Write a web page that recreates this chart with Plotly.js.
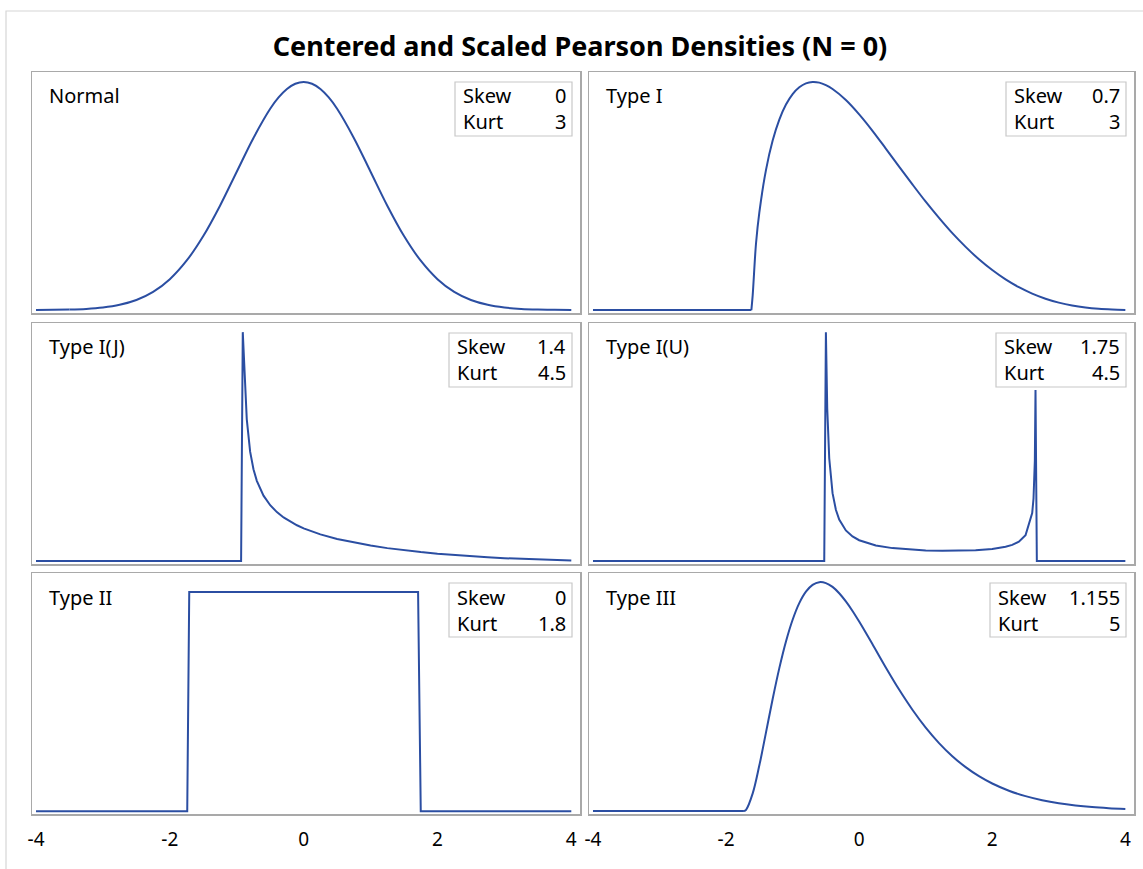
<!DOCTYPE html>
<html>
<head>
<meta charset="utf-8">
<script src="https://cdn.plot.ly/plotly-3.0.1.min.js"></script>
<style>
  html, body { margin: 0; padding: 0; background: #fff; }
  #chart { width: 1143px; height: 869px; }
</style>
</head>
<body>
<div id="chart"></div>
<script>
// Panel names and moment statistics
const panelNames = ["Normal", "Type I", "Type I(J)", "Type I(U)", "Type II", "Type III"];
const skewText = ["0", "0.7", "1.4", "1.75", "0", "1.155"];
const kurtText = ["3", "3", "4.5", "4.5", "1.8", "5"];
const xTickVals = [-4, -2, 0, 2, 4];
const xTickText = ["-4", "-2", "0", "2", "4"];

// Normal
const normX = [-4, -3.75, -3.5, -3.25, -3, -2.75, -2.5, -2.25, -2, -1.75, -1.5, -1.25, -1, -0.75, -0.5, -0.375, -0.25, -0.125, 0,
               0.125, 0.25, 0.375, 0.5, 0.75, 1, 1.25, 1.5, 1.75, 2, 2.25, 2.5, 2.75, 3, 3.25, 3.5, 3.75, 4];
const normY = [0.0001, 0.0004, 0.0009, 0.0020, 0.0044, 0.0091, 0.0175, 0.0317, 0.0540, 0.0863, 0.1295, 0.1826, 0.2420, 0.3011, 0.3521, 0.3719, 0.3867, 0.3958, 0.3989,
               0.3958, 0.3867, 0.3719, 0.3521, 0.3011, 0.2420, 0.1826, 0.1295, 0.0863, 0.0540, 0.0317, 0.0175, 0.0091, 0.0044, 0.0020, 0.0009, 0.0004, 0.0001];

// Type I
const t1X = [-4, -1.62, -1.6, -1.55, -1.5, -1.4, -1.3, -1.2, -1.1, -1.0, -0.9, -0.8, -0.7, -0.6, -0.5, -0.4, -0.2, 0,
             0.2, 0.4, 0.6, 0.8, 1.0, 1.2, 1.4, 1.6, 1.8, 2.0, 2.2, 2.4, 2.6, 2.8, 3.0, 3.2, 3.4, 3.6, 3.8, 4.0];
const t1Y = [0, 0, 0.0267, 0.1195, 0.1746, 0.2507, 0.3031, 0.3407, 0.3676, 0.3864, 0.3986, 0.4056, 0.4079, 0.4068, 0.4023, 0.3954, 0.3758, 0.3501,
             0.3207, 0.2889, 0.2566, 0.2248, 0.1938, 0.1648, 0.1375, 0.1130, 0.0908, 0.0715, 0.0548, 0.0408, 0.0294, 0.0203, 0.0133, 0.0081, 0.0045, 0.0022, 0.0009, 0.0002];

// Type I(J)
const tjX = [-4, -0.935, -0.91, -0.88, -0.85, -0.8, -0.75, -0.7, -0.6, -0.5, -0.4, -0.3, -0.2, -0.1, 0,
             0.25, 0.5, 0.75, 1.0, 1.25, 1.5, 1.75, 2.0, 2.25, 2.5, 2.75, 3.0, 3.25, 3.5, 3.75, 4.0];
const tjY = [0, 0, 2.10, 1.70, 1.30, 1.003, 0.842, 0.736, 0.600, 0.512, 0.449, 0.400, 0.361, 0.328, 0.300,
             0.2445, 0.2025, 0.169, 0.1415, 0.1184, 0.0988, 0.0820, 0.0673, 0.0546, 0.0436, 0.0340, 0.0258, 0.0188, 0.01285, 0.0080, 0.0043];

// Type I(U)
const tuX = [-4, -0.525, -0.5, -0.49, -0.48, -0.45, -0.42, -0.4, -0.35, -0.3, -0.2, -0.1, 0, 0.25, 0.5, 0.75, 1.0, 1.25, 1.5, 1.75,
             2.0, 2.2, 2.3, 2.4, 2.5, 2.6, 2.62, 2.64, 2.65, 2.67, 4];
const tuY = [0, 0, 1.245, 0.993, 0.829, 0.559, 0.426, 0.369, 0.279, 0.226, 0.1665, 0.1337, 0.1131, 0.0844, 0.0702, 0.0621, 0.0577, 0.0558, 0.0560, 0.0589,
             0.0659, 0.0776, 0.0880, 0.1054, 0.1403, 0.2604, 0.340, 0.547, 0.93, 0, 0];

// Type II
const t2X = [-4, -1.74, -1.71, 1.71, 1.75, 4];
const t2Y = [0, 0, 0.2887, 0.2887, 0, 0];

// Type III
const t3X = [-4, -1.732, -1.7, -1.6, -1.5, -1.4, -1.3, -1.2, -1.1, -1.0, -0.9, -0.8, -0.7, -0.6, -0.5, -0.4, -0.3, -0.2, -0.1, 0,
             0.2, 0.4, 0.6, 0.8, 1.0, 1.2, 1.4, 1.6, 1.8, 2.0, 2.25, 2.5, 2.75, 3.0, 3.25, 3.5, 3.75, 4.0];
const t3Y = [0, 0, 0.0025, 0.0361, 0.0936, 0.1612, 0.2295, 0.2927, 0.3473, 0.3918, 0.4258, 0.4492, 0.4632, 0.4688, 0.4669, 0.4591, 0.4461, 0.4293, 0.4098, 0.3880,
             0.3416, 0.2941, 0.2488, 0.2075, 0.1709, 0.1392, 0.1123, 0.0899, 0.0714, 0.0564, 0.0416, 0.0305, 0.0222, 0.0160, 0.0115, 0.0082, 0.0059, 0.0042];

const seriesX = [normX, t1X, tjX, tuX, t2X, t3X];
const seriesY = [normY, t1Y, tjY, tuY, t2Y, t3Y];

// ---- styling ----
const W = 1143, H = 869;
const FONT = "Noto Sans, Open Sans, sans-serif";
const LINE_COLOR = "#2b4ea2";
const FRAME_COLOR = "#a9a9a9";
const colPx = [[32, 580], [589, 1134]];
const rowPx = [[72, 313], [323, 564], [573, 814]];
const smooth = [true, true, false, false, false, true];
const topPad = [0.044, 0.044, 0.04, 0.04, 0.087, 0.04];
const boxW = [117, 120, 123, 130, 123, 136];
const X_RANGE = [-4.06, 4.13];
const TXT = 20;

const traces = [];
const layout = {
  width: W, height: H,
  margin: {l: 0, r: 0, t: 0, b: 0},
  paper_bgcolor: "#fff", plot_bgcolor: "#fff",
  showlegend: false,
  font: {family: FONT, size: TXT, color: "#000"},
  title: {
    text: "Centered and Scaled Pearson Densities (N = 0)",
    font: {family: FONT, size: 27, color: "#000", weight: "bold"},
    x: 580 / W, xref: "paper", xanchor: "center",
    y: 1 - 47 / H, yref: "paper", yanchor: "middle"
  },
  annotations: [],
  shapes: [
    {type: "rect", xref: "paper", yref: "paper",
     x0: 6 / W, x1: 1.01, y0: -0.02, y1: 1 - 11 / H,
     line: {color: "#d6d6d6", width: 1.2}, fillcolor: "rgba(0,0,0,0)", layer: "below"}
  ]
};

for (let i = 0; i < 6; i++) {
  const col = i % 2, row = Math.floor(i / 2);
  const xa = "x" + (i + 1), ya = "y" + (i + 1);
  const xKey = "xaxis" + (i === 0 ? "" : i + 1), yKey = "yaxis" + (i === 0 ? "" : i + 1);
  const xs = seriesX[i], ys = seriesY[i];
  const yMax = Math.max(...ys);
  const bottom = row === 2;

  if (smooth[i]) {
    // flat zero stretch drawn straight, the density itself as a smooth curve
    let k = ys.findIndex(v => v > 0.001);
    k = Math.max(1, k - 1);
    if (ys[0] > 0.001) k = 0;
    if (k > 0) {
      traces.push({x: xs.slice(0, k + 1), y: ys.slice(0, k + 1), type: "scatter", mode: "lines",
        xaxis: xa, yaxis: ya, line: {color: LINE_COLOR, width: 2}, hoverinfo: "skip"});
    }
    traces.push({x: xs.slice(k), y: ys.slice(k), type: "scatter", mode: "lines",
      xaxis: xa, yaxis: ya, line: {color: LINE_COLOR, width: 2, shape: "spline", smoothing: 1}, hoverinfo: "skip"});
  } else {
    traces.push({x: xs, y: ys, type: "scatter", mode: "lines",
      xaxis: xa, yaxis: ya, line: {color: LINE_COLOR, width: 2}, hoverinfo: "skip"});
  }

  layout[xKey] = {
    domain: [colPx[col][0] / W, colPx[col][1] / W],
    range: X_RANGE, anchor: ya,
    showline: true, mirror: true, linecolor: FRAME_COLOR, linewidth: 1.5,
    showgrid: false, zeroline: false,
    tickvals: xTickVals, ticktext: xTickText, showticklabels: bottom,
    ticks: bottom ? "outside" : "", ticklen: 8, tickcolor: "rgba(0,0,0,0)",
    tickfont: {family: FONT, size: 19, color: "#000"}
  };
  layout[yKey] = {
    domain: [1 - rowPx[row][1] / H, 1 - rowPx[row][0] / H],
    range: [-0.013 * yMax, yMax * (1 + topPad[i])], anchor: xa,
    showline: true, mirror: true, linecolor: FRAME_COLOR, linewidth: 1.5,
    showgrid: false, zeroline: false, showticklabels: false, ticks: ""
  };

  const xd = xa + " domain", yd = ya + " domain";
  // panel name
  layout.annotations.push({
    xref: xd, yref: yd, x: 0, y: 1, xanchor: "left", yanchor: "middle",
    xshift: 15, yshift: -24, showarrow: false, text: panelNames[i],
    font: {family: FONT, size: TXT, color: "#000"}
  });
  // statistics inset box
  layout.shapes.push({
    type: "rect", xref: xd, yref: yd,
    xsizemode: "pixel", ysizemode: "pixel", xanchor: 1, yanchor: 1,
    x0: -8 - boxW[i], x1: -8, y0: -10, y1: -64,
    line: {color: "#c8c8c8", width: 1.2}, fillcolor: "#fff"
  });
  const rows = [["Skew", skewText[i], -24], ["Kurt", kurtText[i], -50]];
  rows.forEach(([lab, val, dy]) => {
    layout.annotations.push({
      xref: xd, yref: yd, x: 1, y: 1, xanchor: "left", yanchor: "middle",
      xshift: -(boxW[i] + 2), yshift: dy, showarrow: false, text: lab,
      font: {family: FONT, size: TXT, color: "#000"}
    });
    layout.annotations.push({
      xref: xd, yref: yd, x: 1, y: 1, xanchor: "right", yanchor: "middle",
      xshift: -12, yshift: dy, showarrow: false, text: val,
      font: {family: FONT, size: TXT, color: "#000"}
    });
  });
}

Plotly.newPlot("chart", traces, layout, {displayModeBar: false, staticPlot: true});
</script>
</body>
</html>
